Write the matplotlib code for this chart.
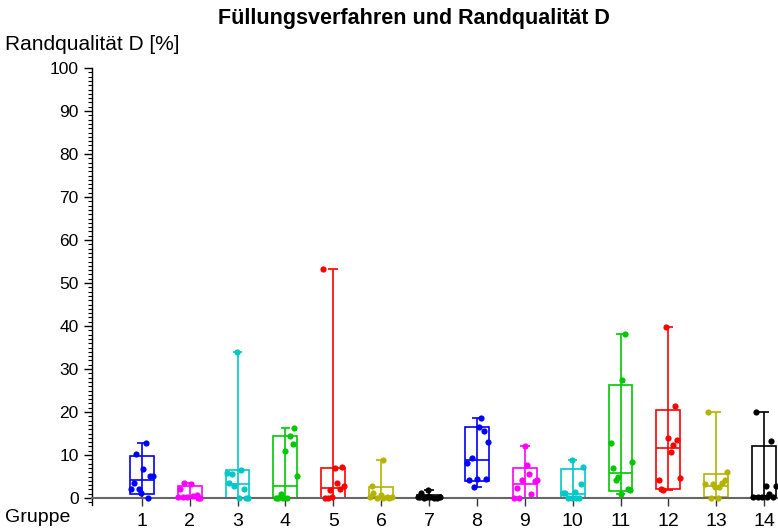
import matplotlib
matplotlib.use("Agg")
import matplotlib.pyplot as plt
import numpy as np
from matplotlib.patches import Rectangle
from matplotlib.ticker import MultipleLocator

plt.rcParams['font.family'] = ['Liberation Sans', 'DejaVu Sans']

# group numbers and colour of each group
groups = list(range(1, 15))
colors = ['#0000ff', '#ff00ff', '#00c8c8', '#00c800', '#ff0000', '#b4b400', '#000000',
          '#0000ff', '#ff00ff', '#00c8c8', '#00c800', '#ff0000', '#b4b400', '#000000']

# single measurements per group (Randqualität D in %)
g1 = [12.9, 10.2, 6.8, 5.2, 5.2, 3.6, 2.0, 2.0, 1.1, 0.0]
g2 = [3.4, 3.2, 2.0, 0.3, 0.2, 0.2, 0.5, 0.6, 0.1, 0.0]
g3 = [5.9, 5.5, 6.5, 3.6, 2.9, 2.0, 0.0, 0.0, 0.0, 34.0]
g4 = [16.3, 14.5, 12.6, 11.0, 5.2, 1.0, 0.0, 0.0, 0.0, 0.0]
g5 = [7.1, 7.3, 3.6, 1.9, 2.0, 2.9, 0.1, 0.1, 0.2, 53.3]
g6 = [8.9, 2.8, 1.1, 0.7, 0.1, 0.1, 0.2, 0.2, 0.3, 0.0]
g7 = [1.9, 1.2, 0.3, 0.2, 0.1, 0.2, 0.3, 0.1, 0.0, 0.2]
g8 = [18.5, 16.6, 15.6, 13.1, 9.4, 8.2, 4.2, 4.4, 4.4, 2.5]
g9 = [12.1, 7.7, 5.5, 4.3, 3.9, 4.1, 2.3, 0.9, 0.0, 0.0]
g10 = [8.8, 7.3, 3.2, 1.1, 1.1, 1.5, 0.1, 0.1, 0.1, 0.1]
g11 = [38.1, 27.4, 12.9, 7.1, 8.4, 5.0, 4.1, 2.2, 1.8, 1.0]
g12 = [39.7, 21.3, 14.0, 13.5, 12.3, 10.8, 4.2, 4.7, 2.0, 1.8]
g13 = [19.9, 6.0, 4.2, 3.4, 3.2, 3.2, 2.6, 2.6, 0.1, 0.1]
g14 = [19.9, 13.3, 2.8, 2.8, 0.9, 0.2, 0.2, 0.2, 0.2, 0.2]
values = [g1, g2, g3, g4, g5, g6, g7, g8, g9, g10, g11, g12, g13, g14]

# horizontal scatter of the dots around each group
jitter = [
    [0.08, -0.12, 0.03, 0.17, 0.23, -0.16, -0.22, -0.06, -0.01, 0.13],
    [-0.11, 0.03, -0.21, -0.24, -0.14, -0.06, 0.08, 0.15, 0.22, 0.18],
    [-0.21, -0.12, 0.08, -0.17, -0.07, 0.14, 0.04, 0.18, 0.22, -0.01],
    [0.19, 0.09, 0.15, -0.01, 0.24, -0.10, -0.20, -0.15, -0.05, 0.03],
    [0.03, 0.18, 0.08, -0.07, 0.14, 0.23, -0.18, -0.12, -0.03, -0.22],
    [0.04, -0.20, -0.16, -0.01, -0.09, 0.04, 0.13, 0.22, -0.23, 0.17],
    [-0.02, -0.16, -0.24, -0.18, -0.10, -0.04, 0.03, 0.10, 0.16, 0.22],
    [0.09, 0.04, 0.14, 0.23, -0.11, -0.20, -0.16, 0.00, 0.19, -0.05],
    [0.00, 0.05, 0.09, -0.06, 0.22, 0.25, -0.16, 0.14, -0.22, -0.11],
    [-0.02, 0.22, 0.17, -0.21, -0.16, 0.04, -0.09, -0.02, 0.07, 0.13],
    [0.09, 0.04, -0.19, -0.15, 0.24, -0.06, -0.10, 0.15, 0.19, 0.00],
    [-0.05, 0.14, 0.00, 0.19, 0.09, 0.05, -0.20, 0.24, -0.16, -0.11],
    [-0.17, 0.23, 0.18, 0.12, -0.23, -0.07, -0.02, 0.06, -0.11, 0.03],
    [-0.17, 0.14, 0.04, 0.24, 0.10, -0.23, -0.13, -0.04, 0.05, 0.19],
]

# box statistics per group
box_low = [0.9, 0.0, 0.0, 0.0, 0.0, 0.0, 0.0, 4.0, 0.0, 0.0, 1.6, 2.2, 0.3, 0.3]
box_med = [4.3, 0.3, 3.3, 2.9, 2.3, 0.3, 0.2, 8.8, 3.3, 0.9, 5.8, 11.6, 2.9, 0.5]
box_high = [9.8, 2.8, 6.5, 14.4, 7.1, 2.5, 0.7, 16.6, 7.1, 6.7, 26.2, 20.5, 5.7, 12.1]
whisk_low = [min(v) for v in values]
whisk_high = [max(v) for v in values]

fig = plt.figure(figsize=(7.78, 5.31), dpi=100)
ax = fig.add_axes([92 / 778, 1 - 504.5 / 531, 1 - 92 / 778, (504.5 - 68) / 531])

bw = 0.5
cw = 0.2
for i, g in enumerate(groups):
    c = colors[i]
    ax.vlines(g, whisk_low[i], whisk_high[i], color=c, lw=1.2, zorder=2)
    ax.hlines([whisk_low[i], whisk_high[i]], g - cw / 2, g + cw / 2, color=c, lw=1.2, zorder=2)
    ax.add_patch(Rectangle((g - bw / 2, box_low[i]), bw, box_high[i] - box_low[i],
                           fill=False, edgecolor=c, lw=1.2, zorder=2))
    ax.hlines(box_med[i], g - bw / 2, g + bw / 2, color=c, lw=1.2, zorder=2)
    ax.scatter(g + np.array(jitter[i]), values[i], s=20, color=c, zorder=3, linewidths=0)

ax.set_xlim(-0.04, 14.29)
ax.set_ylim(-1.5, 100)

for s in ['top', 'right']:
    ax.spines[s].set_visible(False)
ax.spines['bottom'].set_position(('data', 0))
ax.spines['bottom'].set_color('#666666')
ax.spines['bottom'].set_linewidth(1.5)
ax.spines['left'].set_linewidth(1.0)

ax.set_xticks(groups)
ax.set_xticklabels([str(g) for g in groups], fontsize=14)
ax.tick_params(axis='x', length=6, width=1, color='#333333', pad=5)
ax.yaxis.set_major_locator(MultipleLocator(10))
ax.yaxis.set_minor_locator(MultipleLocator(1))
ax.tick_params(axis='y', which='major', length=6, width=1, labelsize=12.5)
ax.tick_params(axis='y', which='minor', length=3, width=0.8)

fig.text(0.532, 0.966, 'Füllungsverfahren und Randqualität D', ha='center', va='center',
         fontsize=15.5, fontweight='bold')
fig.text(0.006, 0.917, 'Randqualität D [%]', ha='left', va='center', fontsize=15)
fig.text(0.006, 0.025, 'Gruppe', ha='left', va='center', fontsize=14)

fig.savefig('out.png', dpi=100)
